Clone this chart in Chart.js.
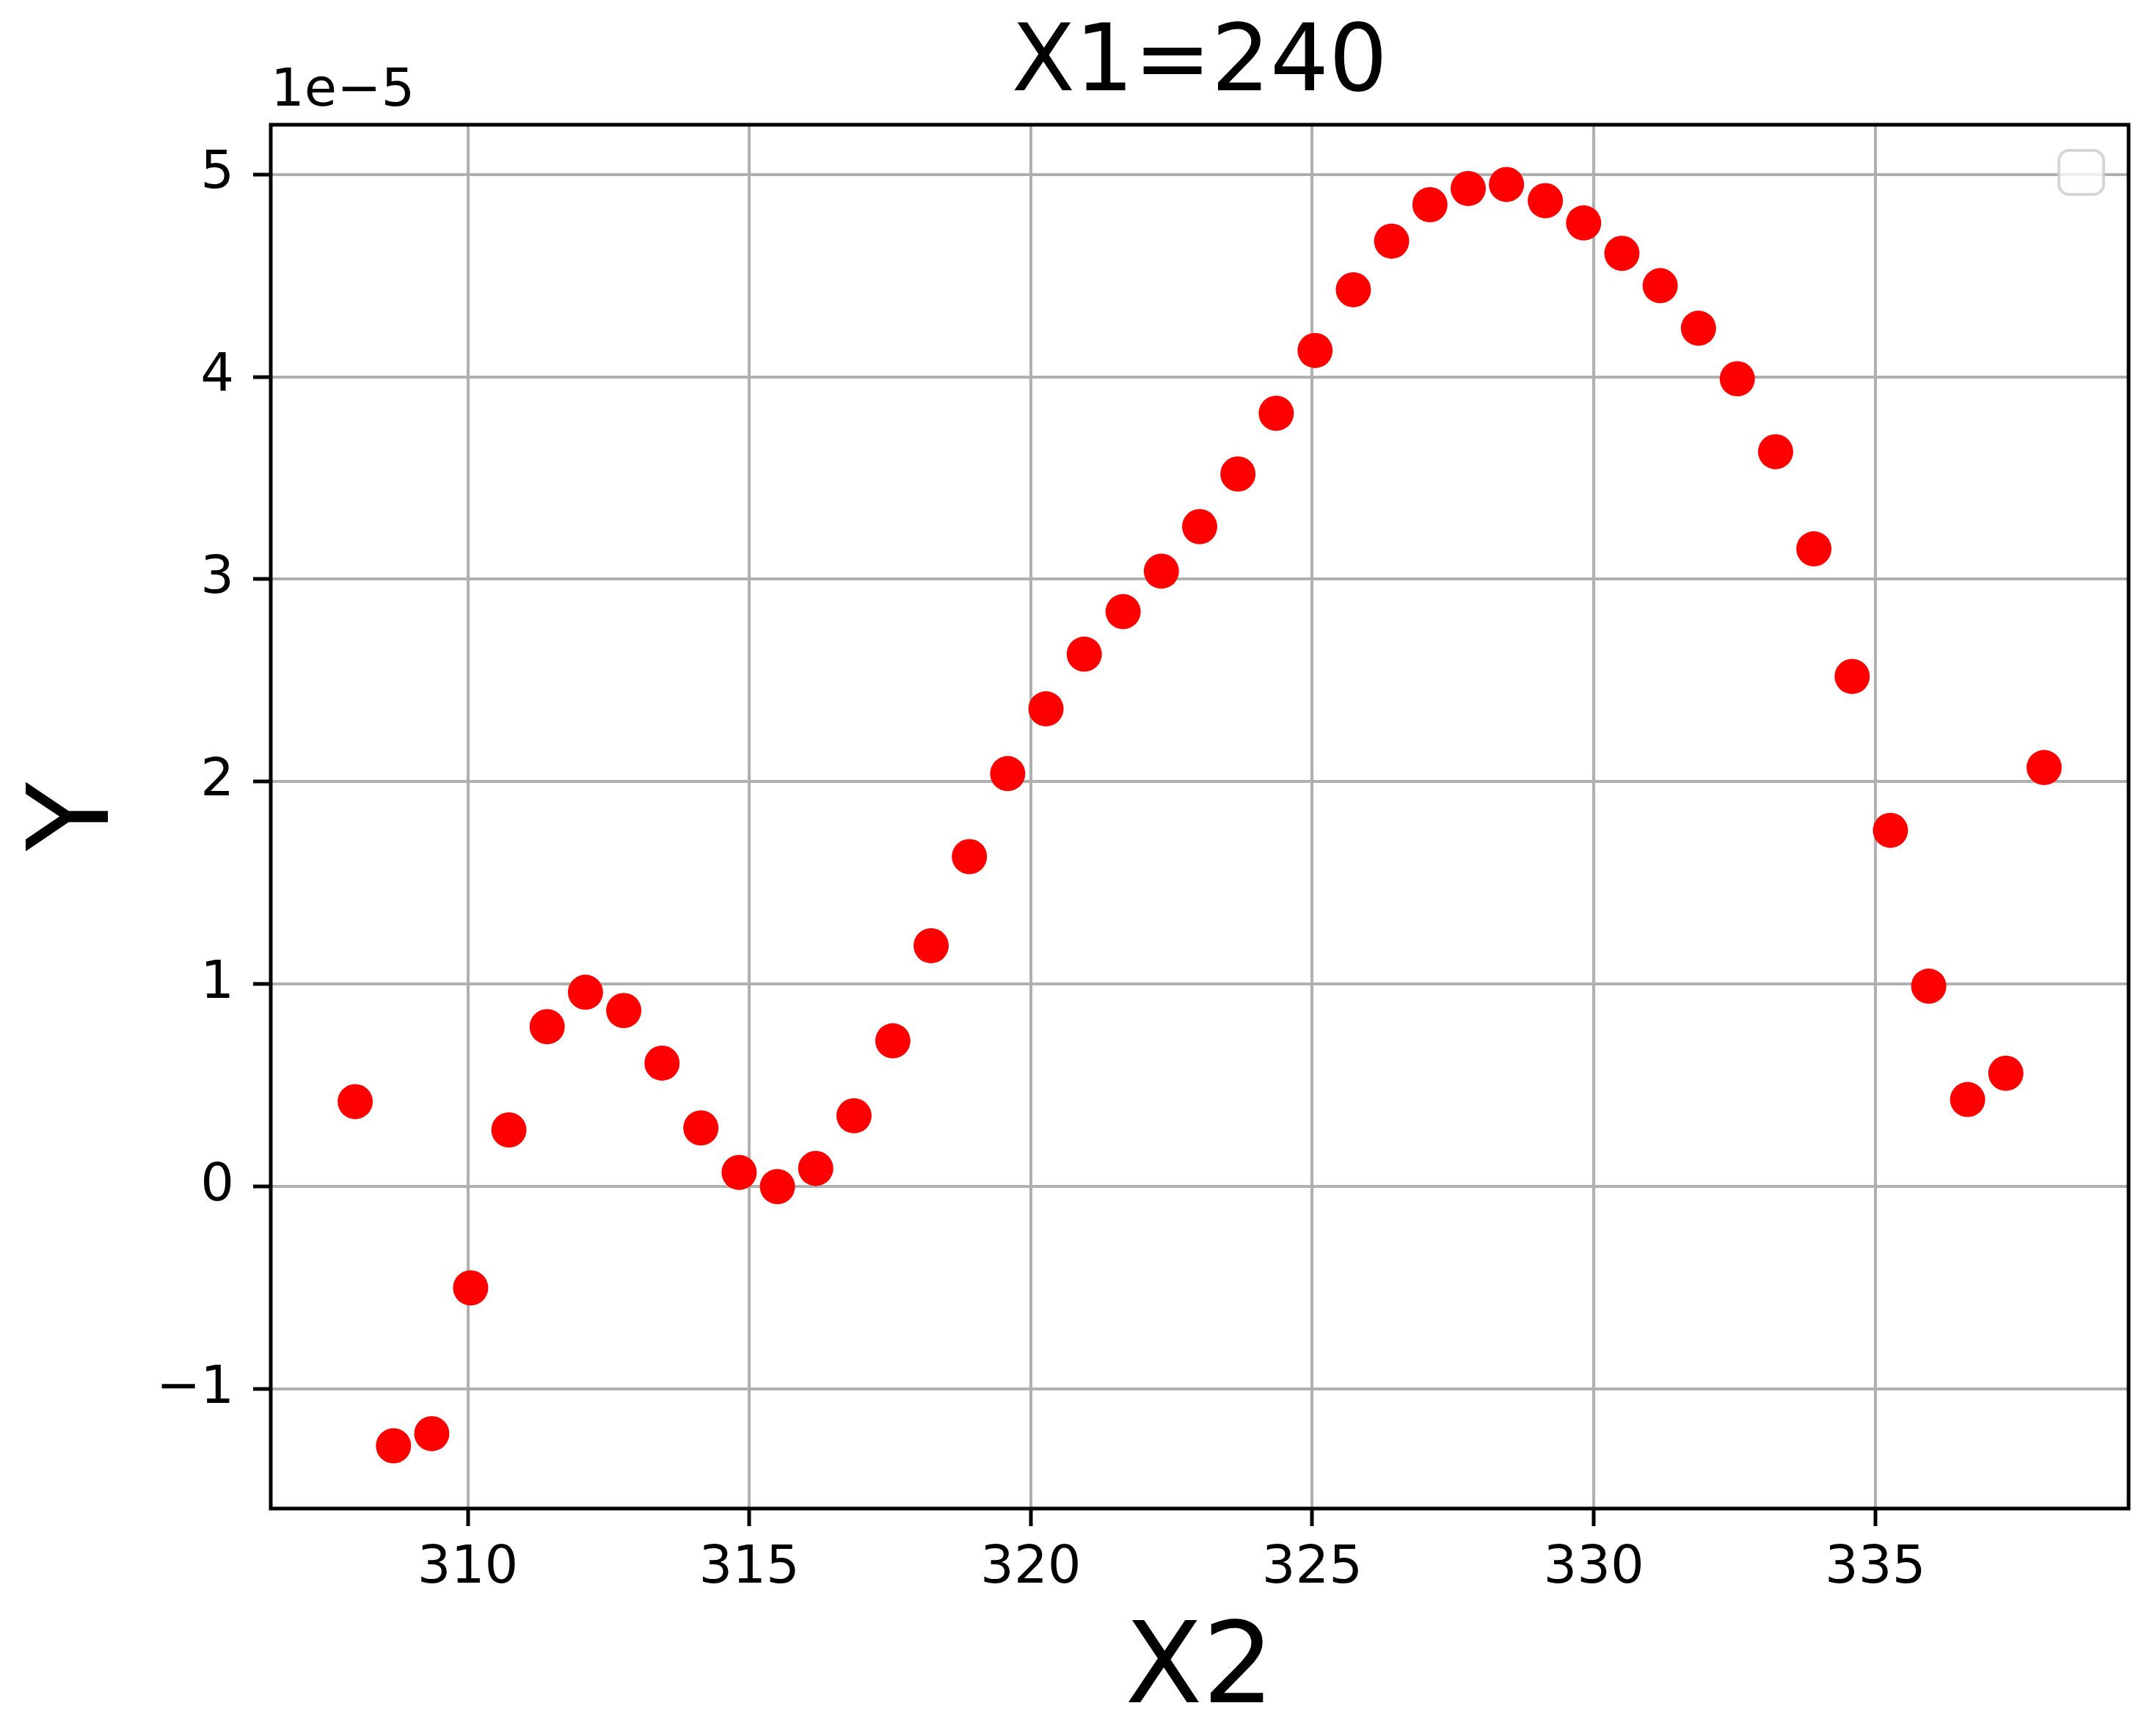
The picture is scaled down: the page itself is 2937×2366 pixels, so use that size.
<!DOCTYPE html>
<html>
<head>
<meta charset="utf-8">
<title>X1=240</title>
<script src="https://cdn.jsdelivr.net/npm/chart.js@4.4.1/dist/chart.umd.min.js"></script>
<style>
  html, body { margin: 0; padding: 0; background: #ffffff; }
  #plot { display: block; }
</style>
</head>
<body>
<canvas id="plot" width="2937" height="2366" style="width:2937px;height:2366px"></canvas>
<script>
// Datos (Y en unidades de 1e-5)
var titleText = "X1=240";
var xLabel = "X2";
var yLabel = "Y";
var offsetText = "1e\u22125";

var x2Values = [308.00, 308.68, 309.36, 310.05, 310.73, 311.41, 312.09, 312.77, 313.45, 314.14,
                314.82, 315.50, 316.18, 316.86, 317.55, 318.23, 318.91, 319.59, 320.27, 320.95,
                321.64, 322.32, 323.00, 323.68, 324.36, 325.05, 325.73, 326.41, 327.09, 327.77,
                328.45, 329.14, 329.82, 330.50, 331.18, 331.86, 332.55, 333.23, 333.91, 334.59,
                335.27, 335.95, 336.64, 337.32, 338.00];

var yValues = [0.42, -1.28, -1.22, -0.50, 0.28, 0.79, 0.96, 0.87, 0.61, 0.29,
               0.07, 0.00, 0.09, 0.35, 0.72, 1.19, 1.63, 2.04, 2.36, 2.63,
               2.84, 3.04, 3.26, 3.52, 3.82, 4.13, 4.43, 4.67, 4.85, 4.93,
               4.95, 4.87, 4.76, 4.61, 4.45, 4.24, 3.99, 3.63, 3.15, 2.52,
               1.76, 0.99, 0.43, 0.56, 2.07];

var xTicksStep = 5;
var yTicksStep = 1;

// Arma los puntos a partir de los arreglos
function buildPoints(xs, ys) {
    var pts = [];
    for (var i = 0; i < xs.length; i++) {
        pts.push({x: xs[i], y: ys[i]});
    }
    return pts;
}

// Formato de ticks con signo menos tipografico
function fmtTick(value) {
    var v = Math.round(value * 1000) / 1000;
    return v < 0 ? "\u2212" + Math.abs(v) : String(v);
}

var FONT = "'DejaVu Sans', 'Liberation Sans', sans-serif";

// Titulo, texto de offset, marco y caja de leyenda vacia
var decoPlugin = {
    id: 'deco',
    afterDraw: function(chart) {
        var ctx = chart.ctx;
        var a = chart.chartArea;
        ctx.save();
        // marco
        ctx.strokeStyle = '#000000';
        ctx.lineWidth = 5;
        ctx.strokeRect(a.left, a.top, a.right - a.left, a.bottom - a.top);
        // titulo
        ctx.fillStyle = '#000000';
        ctx.textAlign = 'center';
        ctx.textBaseline = 'alphabetic';
        ctx.font = "126px " + FONT;
        ctx.fillText(titleText, (a.left + a.right) / 2, a.top - 47);
        // offset 1e-5
        ctx.textAlign = 'left';
        ctx.font = "72px " + FONT;
        ctx.fillText(offsetText, a.left, a.top - 26);
        // leyenda vacia
        var bx = a.right - 95, by = a.top + 35, bw = 61, bh = 60, r = 14;
        ctx.beginPath();
        ctx.roundRect(bx, by, bw, bh, r);
        ctx.fillStyle = 'rgba(255,255,255,0.8)';
        ctx.fill();
        ctx.lineWidth = 4;
        ctx.strokeStyle = 'rgba(204,204,204,0.8)';
        ctx.stroke();
        ctx.restore();
    }
};

var chart = new Chart(document.getElementById('plot'), {
    type: 'scatter',
    data: {
        datasets: [{
            label: '',
            data: buildPoints(x2Values, yValues),
            backgroundColor: '#ff0000',
            borderWidth: 0,
            pointRadius: 24,
            pointHoverRadius: 24
        }]
    },
    options: {
        responsive: false,
        devicePixelRatio: 1,
        animation: false,
        layout: { padding: { top: 170, right: 36, left: 0, bottom: 0 } },
        plugins: {
            legend: { display: false },
            tooltip: { enabled: false },
            title: { display: false }
        },
        scales: {
            x: {
                type: 'linear',
                min: 306.5,
                max: 339.5,
                afterFit: function(s) { s.height = 310; },
                grid: { color: '#b0b0b0', lineWidth: 4, tickColor: '#000000', tickWidth: 5, tickLength: 24 },
                border: { display: false },
                ticks: {
                    stepSize: xTicksStep,
                    includeBounds: false,
                    color: '#000000',
                    padding: 15,
                    maxRotation: 0,
                    font: { family: FONT, size: 72 },
                    callback: fmtTick
                },
                title: {
                    display: true,
                    text: xLabel,
                    color: '#000000',
                    font: { family: FONT, size: 154, lineHeight: 1.12 },
                    padding: { top: 0, bottom: 0 }
                }
            },
            y: {
                type: 'linear',
                min: -1.59,
                max: 5.245,
                afterFit: function(s) { s.width = 369; },
                grid: { color: '#b0b0b0', lineWidth: 4, tickColor: '#000000', tickWidth: 5, tickLength: 24 },
                border: { display: false },
                ticks: {
                    stepSize: yTicksStep,
                    includeBounds: false,
                    color: '#000000',
                    padding: 26,
                    font: { family: FONT, size: 72 },
                    callback: fmtTick
                },
                title: {
                    display: true,
                    text: yLabel,
                    color: '#000000',
                    font: { family: FONT, size: 154 },
                    padding: { top: 15, bottom: 0 }
                }
            }
        }
    },
    plugins: [decoPlugin]
});
</script>
</body>
</html>
